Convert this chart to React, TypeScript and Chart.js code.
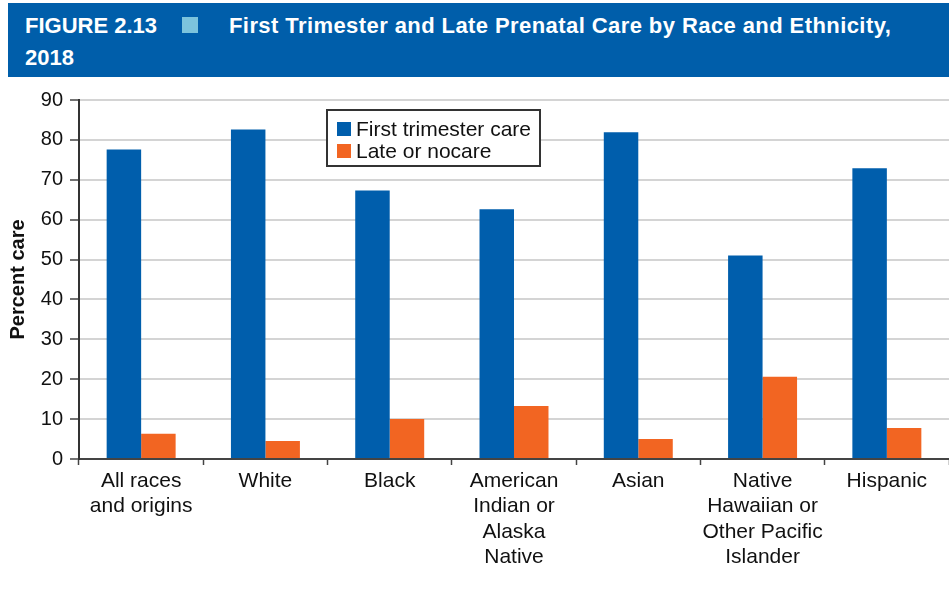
import React, { useEffect, useRef } from 'react';
import { Chart, registerables } from 'chart.js';

Chart.register(...registerables);

const categories: string[][] = [
  ['All races', 'and origins'],
  ['White'],
  ['Black'],
  ['American', 'Indian or', 'Alaska', 'Native'],
  ['Asian'],
  ['Native', 'Hawaiian or', 'Other Pacific', 'Islander'],
  ['Hispanic'],
];
const firstTrimester = [77.6, 82.6, 67.3, 62.6, 81.9, 51.0, 72.9];
const lateOrNoCare = [6.3, 4.5, 10.0, 13.3, 5.0, 20.6, 7.8];
const seriesLabels = ['First trimester care', 'Late or nocare'];
const yMin = 0;
const yMax = 90;
const yStep = 10;

const FONT = '"Liberation Sans", Arial, Helvetica, sans-serif';

const boxLegend = {
  id: 'boxLegend',
  afterDraw(chart: any) {
    const ctx = chart.ctx as CanvasRenderingContext2D;
    ctx.save();
    const x = 326, y = 31, w = 215, h = 58;
    ctx.fillStyle = '#ffffff';
    ctx.fillRect(x, y, w, h);
    ctx.strokeStyle = '#333333';
    ctx.lineWidth = 2;
    ctx.strokeRect(x + 1, y + 1, w - 2, h - 2);
    ctx.font = `21px ${FONT}`;
    ctx.textBaseline = 'middle';
    chart.data.datasets.forEach((ds: any, i: number) => {
      ctx.fillStyle = ds.backgroundColor;
      ctx.fillRect(337, 44 + i * 22, 14, 14);
      ctx.fillStyle = '#111111';
      ctx.fillText(ds.label, 356, 52 + i * 22);
    });
    ctx.restore();
  },
};

export default function App() {
  const ref = useRef<HTMLCanvasElement | null>(null);

  useEffect(() => {
    document.body.style.margin = '0';
    const canvas = ref.current;
    if (!canvas) return;
    const chart = new Chart(canvas, {
      type: 'bar',
      data: {
        labels: categories,
        datasets: [
          {
            label: seriesLabels[0],
            data: firstTrimester,
            backgroundColor: '#005EAC',
            categoryPercentage: 0.555,
            barPercentage: 1,
          },
          {
            label: seriesLabels[1],
            data: lateOrNoCare,
            backgroundColor: '#F26522',
            categoryPercentage: 0.555,
            barPercentage: 1,
          },
        ],
      },
      options: {
        animation: false,
        responsive: false,
        maintainAspectRatio: false,
        layout: { padding: { top: 22, left: 0, right: 0, bottom: 0 } },
        plugins: {
          legend: { display: false },
          tooltip: { enabled: false },
        },
        scales: {
          x: {
            grid: {
              drawOnChartArea: false,
              tickLength: 6,
              tickColor: '#444444',
              tickWidth: 1.5,
              offset: true,
            },
            border: { color: '#444444', width: 2 },
            ticks: {
              font: { family: FONT, size: 21, lineHeight: 1.214 },
              color: '#111111',
              padding: 3,
              maxRotation: 0,
              autoSkip: false,
            },
            afterFit(s: any) {
              s.height = 130;
            },
          },
          y: {
            min: yMin,
            max: yMax,
            ticks: {
              stepSize: yStep,
              font: { family: FONT, size: 20 },
              color: '#111111',
              padding: 7,
            },
            grid: {
              color: '#d4d4d4',
              lineWidth: 2,
              tickLength: 9,
              tickColor: '#444444',
              tickWidth: 1.5,
            },
            border: { color: '#333333', width: 2 },
            title: {
              display: true,
              text: 'Percent care',
              font: { family: FONT, size: 20, weight: 'bold' },
              color: '#111111',
              padding: { top: 6, bottom: 0 },
            },
            afterFit(s: any) {
              s.width = 79;
            },
          },
        },
      },
      plugins: [boxLegend],
    } as any);
    return () => chart.destroy();
  }, []);

  const headFont: React.CSSProperties = {
    position: 'absolute',
    color: '#ffffff',
    fontFamily: FONT,
    fontWeight: 'bold',
    fontSize: 22,
    lineHeight: '22px',
    whiteSpace: 'nowrap',
  };

  return (
    <div style={{ position: 'relative', width: 949, height: 589, background: '#fff', overflow: 'hidden' }}>
      <div style={{ position: 'absolute', left: 8, top: 3, width: 941, height: 74, background: '#005EAA' }}>
        <span style={{ ...headFont, left: 17, top: 12 }}>FIGURE 2.13</span>
        <span style={{ position: 'absolute', left: 174, top: 14, width: 16, height: 16, background: '#7CC4DD' }} />
        <span style={{ ...headFont, left: 221, top: 12, letterSpacing: '0.42px' }}>
          First Trimester and Late Prenatal Care by Race and Ethnicity,
        </span>
        <span style={{ ...headFont, left: 17, top: 44 }}>2018</span>
      </div>
      <canvas ref={ref} width={949} height={511} style={{ position: 'absolute', left: 0, top: 78, width: 949, height: 511 }} />
    </div>
  );
}
